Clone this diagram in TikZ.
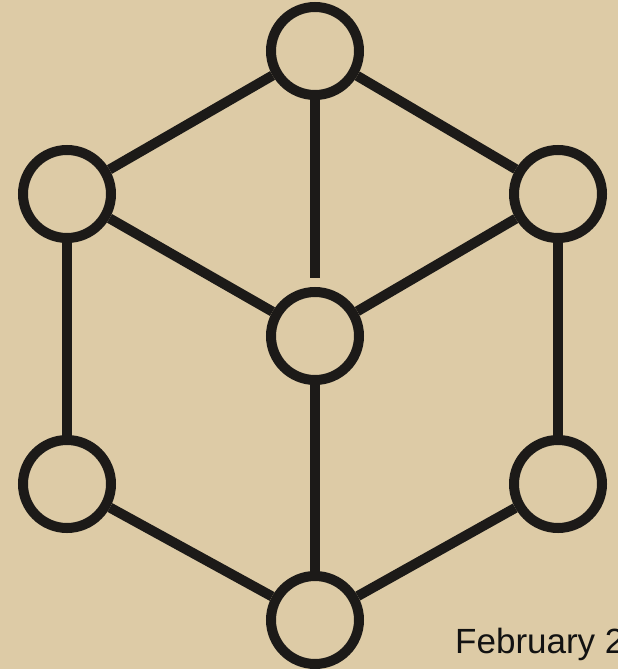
\documentclass[tikz,border=0pt]{standalone}
\usepackage{fontspec}
\setmainfont{Liberation Sans}
\usepackage{tikz}

\definecolor{sand}{RGB}{221,203,166}
\definecolor{ink}{RGB}{28,26,24}

\begin{document}
\begin{tikzpicture}[x=1pt,y=-1pt,
  hub/.style={circle,draw=ink,line width=10pt,minimum size=88pt,inner sep=0pt},
  link/.style={draw=ink,line width=10pt}]
\clip (0,0) rectangle (618,669);
\fill[sand] (0,0) rectangle (618,669);
\node[hub] (top) at (315,51) {};
\node[hub] (left) at (67,194) {};
\node[hub] (right) at (558,194) {};
\node[hub] (mid) at (315,336) {};
\node[hub] (botleft) at (67,484) {};
\node[hub] (botright) at (558,484) {};
\node[hub] (bot) at (315,620) {};
\draw[link] (top) -- (left);
\draw[link] (top) -- (right);
\draw[link,shorten >=9pt] (top) -- (mid);
\draw[link] (left) -- (mid);
\draw[link] (right) -- (mid);
\draw[link] (left) -- (botleft);
\draw[link] (right) -- (botright);
\draw[link] (botleft) -- (bot);
\draw[link] (botright) -- (bot);
\draw[link] (mid) -- (bot);
\node[anchor=base west,inner sep=0pt,font=\fontsize{35}{40}\selectfont,text=black!93] (date) at (455,653) {February 2};
\end{tikzpicture}
\end{document}
